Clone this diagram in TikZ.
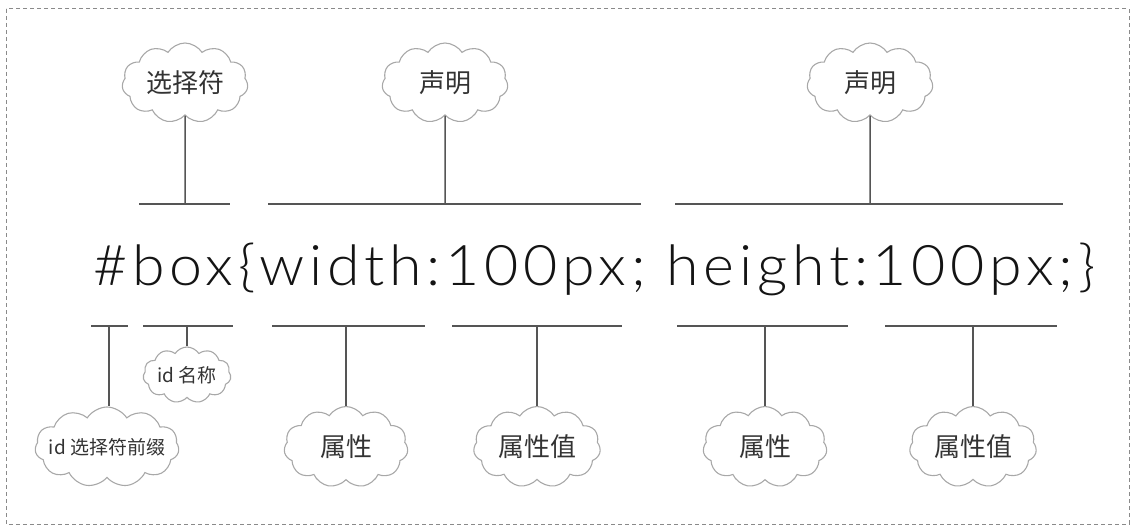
\documentclass[tikz,border=0pt]{standalone}
\usepackage{fontspec}
\usetikzlibrary{shapes.symbols}
\newfontfamily\cjk{Noto Sans CJK SC}
\newfontfamily\codefont[LetterSpace=8]{Lato Light}
\definecolor{cloudgray}{HTML}{A8A8A8}
\definecolor{linegray}{HTML}{555555}
\definecolor{labelgray}{HTML}{333333}
\definecolor{framegray}{HTML}{8A8A8A}
\newcommand{\cltext}[1]{\makebox[0pt][c]{#1}}
\tikzset{
  cloudbox/.style={cloud, cloud puffs=11, cloud puff arc=115, cloud ignores aspect,
    draw=cloudgray, line width=1.1pt, inner sep=0pt, text=labelgray,
    minimum width=126pt, minimum height=80pt,
    font=\cjk\fontsize{26}{26}\selectfont},
  smallcloud/.style={cloudbox, font=\cjk\fontsize{19}{19}\selectfont},
  bar/.style={draw=linegray, line width=1.6pt},
  stem/.style={draw=linegray, line width=1.5pt},
  frame/.style={draw=framegray, line width=1pt, dash pattern=on 4pt off 3pt},
}
\begin{document}
\begin{tikzpicture}[x=1pt,y=-1pt]
\useasboundingbox (0,0) rectangle (1138,532);
\draw[frame] (6,9) rectangle (1129,524);

% code text
\node[anchor=base west, inner sep=0pt, text=black!92] (code) at (93,285)
  {\resizebox{1002pt}{\height}{\codefont\fontsize{56}{60}\selectfont \#box\{width:100px; height:100px;\}}};

% top clouds
\node[cloudbox] (sel) at (185,83) {\cltext{选择符}};
\node[cloudbox] (decl1) at (445,83) {\cltext{声明}};
\node[cloudbox] (decl2) at (870,83) {\cltext{声明}};

% top bars
\coordinate (t1a) at (139,204); \coordinate (t1b) at (230,204); \coordinate (t1s) at (185,204);
\coordinate (t2a) at (268,204); \coordinate (t2b) at (641,204); \coordinate (t2s) at (445,204);
\coordinate (t3a) at (675,204); \coordinate (t3b) at (1063,204); \coordinate (t3s) at (870,204);
\draw[bar] (t1a) -- (t1b);
\draw[bar] (t2a) -- (t2b);
\draw[bar] (t3a) -- (t3b);
\draw[stem] (sel.south) -- (t1s);
\draw[stem] (decl1.south) -- (t2s);
\draw[stem] (decl2.south) -- (t3s);

% bottom clouds
\node[smallcloud, minimum width=144pt, minimum height=80pt] (prefix) at (107,447) {\cltext{id 选择符前缀}};
\node[smallcloud, minimum width=88pt, minimum height=56pt] (idname) at (187,375) {\cltext{id 名称}};
\node[cloudbox, minimum width=124pt, minimum height=81pt] (prop1) at (346,447) {\cltext{属性}};
\node[cloudbox, minimum width=127pt, minimum height=81pt] (val1) at (537,447) {\cltext{属性值}};
\node[cloudbox, minimum width=124pt, minimum height=81pt] (prop2) at (765,447) {\cltext{属性}};
\node[cloudbox, minimum width=127pt, minimum height=81pt] (val2) at (973,447) {\cltext{属性值}};

% bottom bars
\coordinate (b1a) at (91,326);  \coordinate (b1b) at (128,326);  \coordinate (b1s) at (109,326);
\coordinate (b2a) at (143,326); \coordinate (b2b) at (233,326);  \coordinate (b2s) at (187,326);
\coordinate (b3a) at (272,326); \coordinate (b3b) at (425,326);  \coordinate (b3s) at (346,326);
\coordinate (b4a) at (452,326); \coordinate (b4b) at (622,326);  \coordinate (b4s) at (537,326);
\coordinate (b5a) at (677,326); \coordinate (b5b) at (848,326);  \coordinate (b5s) at (765,326);
\coordinate (b6a) at (885,326); \coordinate (b6b) at (1057,326); \coordinate (b6s) at (973,326);
\draw[bar] (b1a) -- (b1b);
\draw[bar] (b2a) -- (b2b);
\draw[bar] (b3a) -- (b3b);
\draw[bar] (b4a) -- (b4b);
\draw[bar] (b5a) -- (b5b);
\draw[bar] (b6a) -- (b6b);
\draw[stem] (b1s) -- (b1s |- prefix.north);
\draw[stem] (b2s) -- (idname.north);
\draw[stem] (b3s) -- (prop1.north);
\draw[stem] (b4s) -- (val1.north);
\draw[stem] (b5s) -- (prop2.north);
\draw[stem] (b6s) -- (val2.north);
\end{tikzpicture}
\end{document}
